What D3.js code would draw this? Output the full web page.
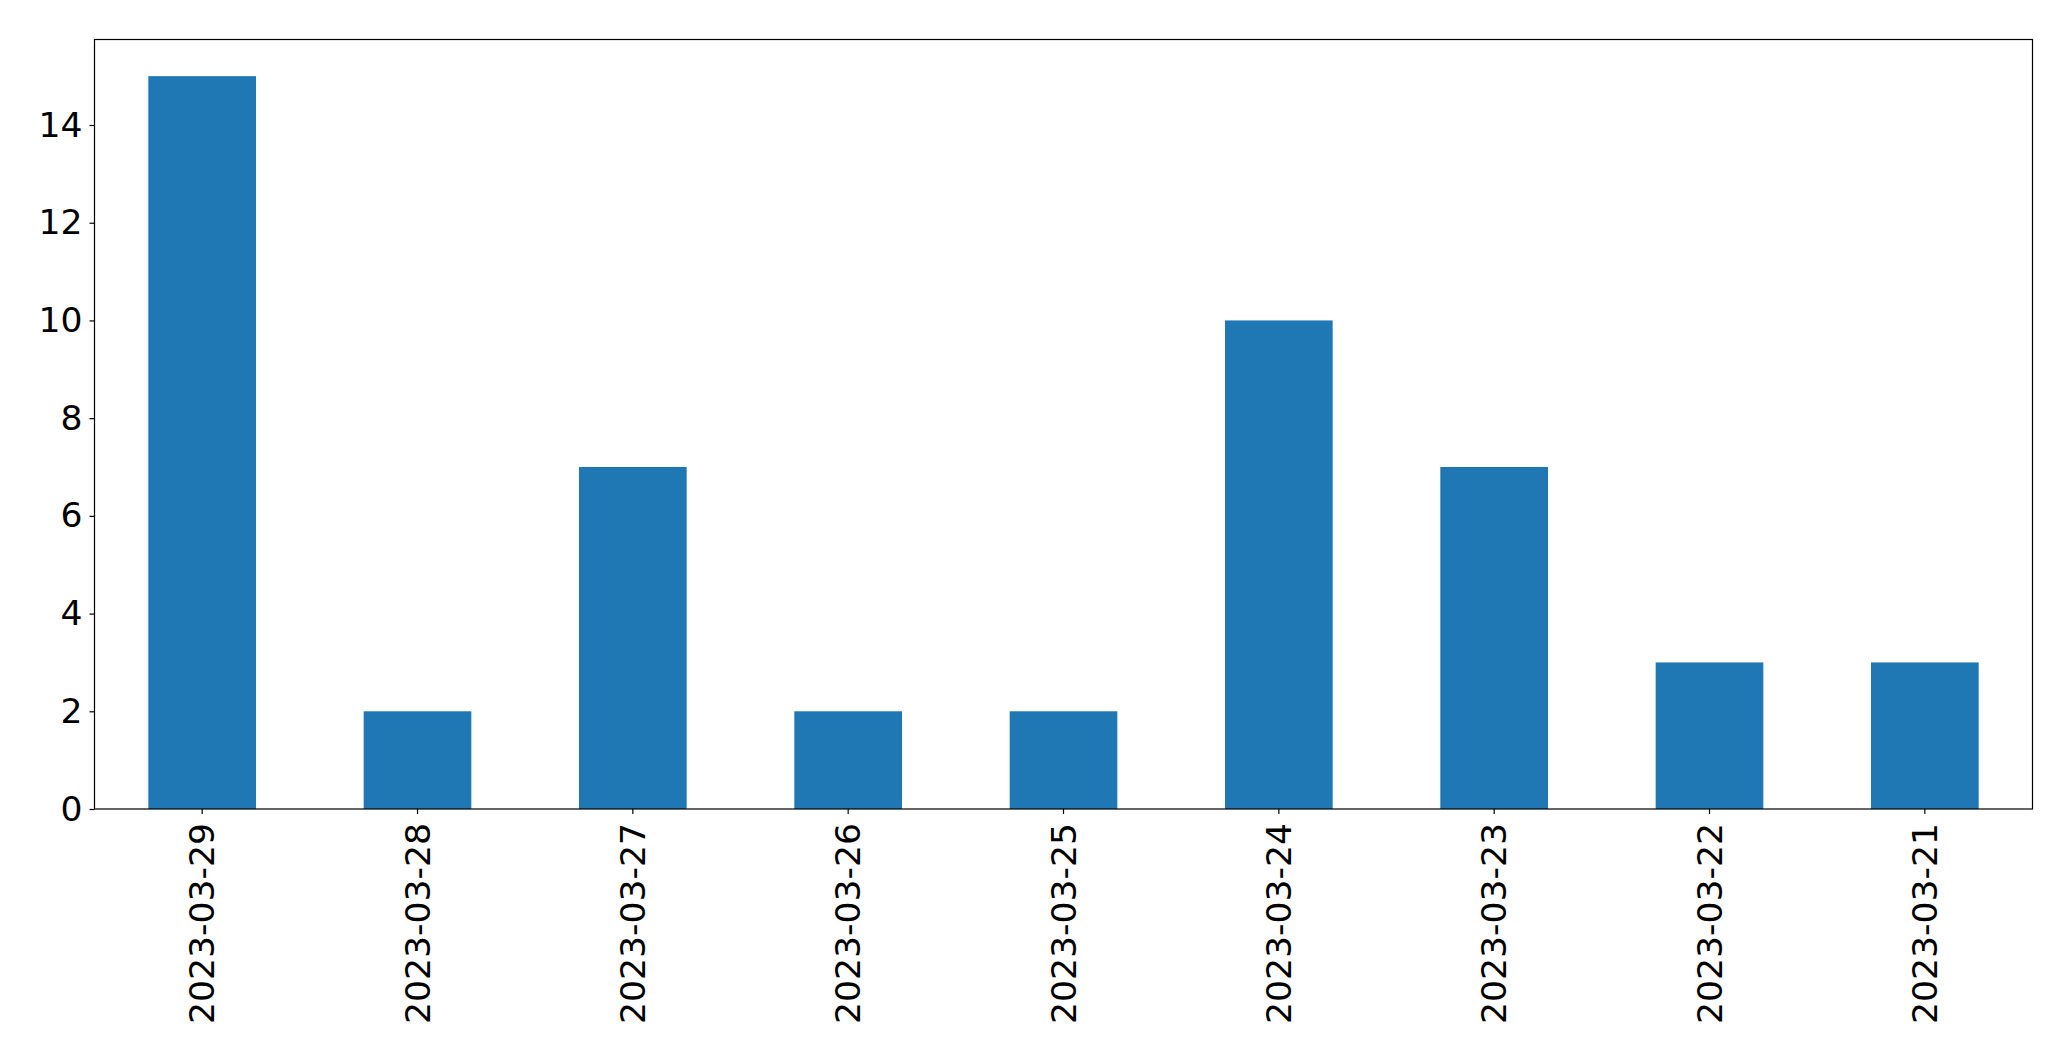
<!DOCTYPE html>
<html><head><meta charset="utf-8">
<script src="https://cdn.jsdelivr.net/npm/d3@7"></script>
<style>body{margin:0;background:#fff}svg{display:block}</style>
</head><body>
<script>
const categories = ["2023-03-29","2023-03-28","2023-03-27","2023-03-26","2023-03-25","2023-03-24","2023-03-23","2023-03-22","2023-03-21"];
const values = [15, 2, 7, 2, 2, 10, 7, 3, 3];
const yTicks = [0, 2, 4, 6, 8, 10, 12, 14];

const W = 2071, H = 1061;
const m = {left: 94.5, right: 2032.5, top: 39.5, bottom: 809};
const svg = d3.select("body").append("svg").attr("width", W).attr("height", H);

const x = d3.scaleBand().domain(categories).range([m.left, m.right]).paddingInner(0.5).paddingOuter(0.25);
const y = d3.scaleLinear().domain([0, 15.75]).range([m.bottom, m.top]);

svg.append("g").selectAll("rect").data(values).join("rect")
  .attr("x", (d, i) => x(categories[i]))
  .attr("width", x.bandwidth())
  .attr("y", d => y(d))
  .attr("height", d => y(0) - y(d))
  .attr("fill", "#1f77b4");

const font = "'DejaVu Sans', sans-serif";
const fs = 34.6;
const yAxis = svg.append("g").attr("transform", `translate(${m.left},0)`)
  .call(d3.axisLeft(y).tickValues(yTicks).tickSize(5).tickPadding(7).tickFormat(d3.format("d")));
yAxis.select(".domain").remove();
yAxis.selectAll("text").attr("font-family", font).attr("font-size", fs).attr("fill", "#000");
yAxis.selectAll("line").attr("stroke", "#000").attr("stroke-width", 1.2);

const xAxis = svg.append("g").attr("transform", `translate(0,${m.bottom})`)
  .call(d3.axisBottom(x).tickSize(5).tickPadding(7));
xAxis.select(".domain").remove();
xAxis.selectAll("line").attr("stroke", "#000").attr("stroke-width", 1.2);
xAxis.selectAll("text")
  .attr("font-family", font).attr("font-size", fs).attr("fill", "#000")
  .attr("text-anchor", "end")
  .attr("transform", "rotate(-90)")
  .attr("x", -14).attr("y", 0).attr("dy", "0.35em");

svg.append("rect").attr("x", m.left).attr("y", m.top)
  .attr("width", m.right - m.left).attr("height", m.bottom - m.top)
  .attr("fill", "none").attr("stroke", "#000").attr("stroke-width", 1.2);
</script>
</body></html>
